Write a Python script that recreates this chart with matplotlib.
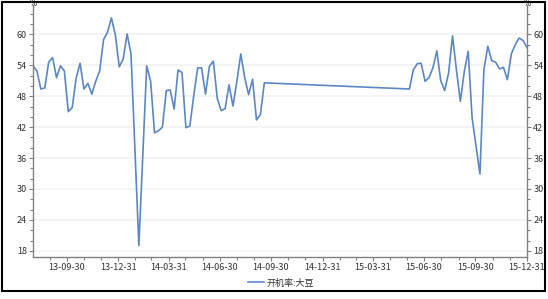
import numpy as np
import pandas as pd
import matplotlib
matplotlib.use("Agg")
import matplotlib.pyplot as plt
import matplotlib.dates as mdates
import matplotlib.ticker as ticker
from matplotlib.patches import Rectangle

plt.rcParams["font.family"] = ["Noto Sans CJK SC", "DejaVu Sans"]

# ── 데이터 (주간, 목요일 기준) ────────────────────────────────────────────────
series_name = "开机率:大豆"

seg1_start = "2013-08-01"
seg1_values = [
    53.9, 52.9, 49.4, 49.6, 54.6, 55.5, 51.6, 53.9, 52.9, 45.0,
    45.8, 51.5, 54.4, 49.4, 50.5, 48.4, 50.9, 52.9, 59.0, 60.4,
    63.2, 59.9, 53.7, 55.2, 60.1, 56.2, np.nan, 19.0, np.nan, 53.9,
    50.9, 40.9, 41.3, 42.0, 49.1, 49.2, 45.5, 53.1, 52.6, 41.9,
    42.2, 48.1, 53.5, 53.5, 48.4, 53.8, 54.8, 47.6, 45.2, 45.6,
    50.2, 46.1, 50.9, 56.2, 51.6, 48.3, 51.3, 43.4, 44.4, 50.6,
]

seg2_start = "2015-06-04"
seg2_values = [
    49.4, 53.1, 54.3, 54.4, 50.9, 51.6, 53.5, 56.8, 51.0, 49.1,
    52.5, 59.7, 53.1, 47.0, 52.8, 56.7, 43.8, np.nan, 32.9, 53.1,
    57.7, 54.9, 54.6, 53.3, 53.6, 51.2, 56.2, 58.0, 59.3, 58.8,
    57.4,
]

x_start, x_end = "2013-08-01", "2015-12-31"
y_ticks = [18, 24, 30, 36, 42, 48, 54, 60]


def build_series():
    d1 = pd.date_range(seg1_start, periods=len(seg1_values), freq="7D")
    d2 = pd.date_range(seg2_start, periods=len(seg2_values), freq="7D")
    dates = np.concatenate([d1.values, d2.values])
    vals = np.array(seg1_values + seg2_values, dtype=float)
    ok = ~np.isnan(vals)
    return dates[ok], vals[ok]


# ── 플롯 ─────────────────────────────────────────────────────────────────────
def main():
    dates, vals = build_series()

    fig = plt.figure(figsize=(5.48, 2.99), dpi=100)
    W, H = 548, 299
    ax = fig.add_axes([33 / W, 1 - 257 / H, (527 - 33) / W, (257 - 5) / H])

    line, = ax.plot(dates, vals, color="#5b87c5", linewidth=1.2)

    ax.set_xlim(pd.Timestamp(x_start), pd.Timestamp(x_end))
    ax.set_ylim(16.8, 65.7)

    # x축: 분기말 major, 월말 minor
    q_ends = pd.date_range(x_start, x_end, freq="QE")
    m_ends = pd.date_range(x_start, x_end, freq="ME")
    ax.xaxis.set_major_locator(ticker.FixedLocator(mdates.date2num(q_ends)))
    ax.xaxis.set_minor_locator(ticker.FixedLocator(mdates.date2num(m_ends)))
    ax.xaxis.set_major_formatter(mdates.DateFormatter("%y-%m-%d"))

    ax.yaxis.set_major_locator(ticker.FixedLocator(y_ticks))
    ax.yaxis.set_minor_locator(ticker.MultipleLocator(2))
    ax.tick_params(axis="y", which="both", left=True, right=True,
                   labelleft=True, labelright=True)

    ax.tick_params(which="major", length=3, width=0.8, color="#808080",
                   labelsize=6.5, labelcolor="#333333", pad=1.5)
    ax.tick_params(which="minor", length=2, width=0.8, color="#808080")

    ax.spines["top"].set_visible(False)
    for side in ("left", "right", "bottom"):
        ax.spines[side].set_color("#808080")
        ax.spines[side].set_linewidth(1.0)

    ax.grid(axis="y", which="major", color="#f2f2f2", linewidth=1.2)
    ax.set_axisbelow(True)

    # 단위 표시
    for xp in (33, 527):
        fig.text(xp / W, 1 - 4 / H, "%", fontsize=5.5, ha="center",
                 va="center", color="#333333", family="DejaVu Sans")

    fig.legend([line], [series_name], loc="center", frameon=False,
               bbox_to_anchor=(281 / W, 1 - 283 / H), fontsize=6.5,
               handlelength=1.8, handletextpad=0.3, labelcolor="#333333")

    # 외곽 테두리
    fig.patches.append(Rectangle((2 / W, 1 - 291 / H), 543 / W, 289 / H,
                                 transform=fig.transFigure, fill=False,
                                 edgecolor="black", linewidth=1.5))

    fig.savefig("out.png", dpi=100)


if __name__ == "__main__":
    main()
